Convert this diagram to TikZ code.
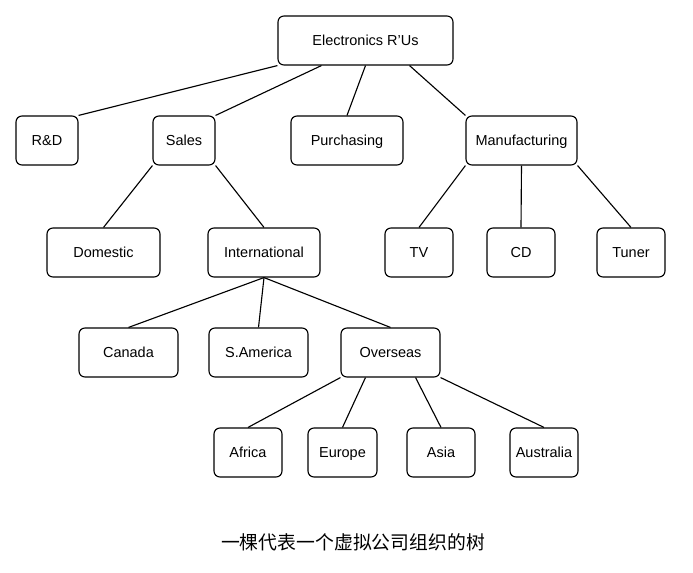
\documentclass[tikz,border=0pt]{standalone}
\usepackage{fontspec}
\setmainfont{Liberation Sans}
\newfontfamily\cjk{Noto Sans CJK SC}
\usetikzlibrary{positioning,calc}

\begin{document}
\begin{tikzpicture}[x=0.025cm,y=-0.025cm,line width=0.8pt,
	box/.style={draw,rounded corners=0.15cm,minimum height=1.225cm,inner sep=0pt,
		text height=0.916em,text depth=0.2em,font=\fontsize{10.3}{12}\selectfont}]
	\useasboundingbox (0,0) rectangle (693,573);
	\node[box,minimum width=4.375cm] (0) at (365.5, 40.5) {Electronics R'Us};
	\node[box,minimum width=1.55cm] (1) at (47, 140.5) {R\&D};
	\node[box,minimum width=1.55cm] (2) at (184, 140.5) {Sales};
	\node[box,minimum width=2.8cm] (3) at (347, 140.5) {Purchasing};
	\node[box,minimum width=2.775cm] (4) at (521.5, 140.5) {Manufacturing};
	\node[box,minimum width=2.825cm] (5) at (103.5, 252.5) {Domestic};
	\node[box,minimum width=2.8cm] (6) at (264, 252.5) {International};
	\node[box,minimum width=1.7cm] (7) at (419, 252.5) {TV};
	\node[box,minimum width=1.7cm] (8) at (521, 252.5) {CD};
	\node[box,minimum width=1.7cm] (9) at (631, 252.5) {Tuner};
	\node[box,minimum width=2.475cm] (10) at (128.5, 352.5) {Canada};
	\node[box,minimum width=2.475cm] (11) at (258.5, 352.5) {S.America};
	\node[box,minimum width=2.475cm] (12) at (390.5, 352.5) {Overseas};
	\node[box,minimum width=1.7cm] (13) at (248, 452.5) {Africa};
	\node[box,minimum width=1.725cm] (14) at (342.5, 452.5) {Europe};
	\node[box,minimum width=1.7cm] (15) at (441, 452.5) {Asia};
	\node[box,minimum width=1.7cm] (16) at (544, 452.5) {Australia};
	\node[font=\cjk\fontsize{13.4}{15}\selectfont] (17) at (353, 542) {一棵代表一个虚拟公司组织的树};
	\draw (0.south west) to (1.north east);
	\draw ($(0.south west)!0.25!(0.south east)$) to (2.north east);
	\draw (0.south) to (3.north);
	\draw ($(0.south west)!0.75!(0.south east)$) to (4.north west);
	\draw (2.south west) to (5.north);
	\draw (2.south east) to (6.north);
	\draw (4.south west) to (7.north);
	\draw (4.south) to (8.north);
	\draw (4.south east) to (9.north);
	\draw (6.south) to (10.north);
	\draw (6.south) to (11.north);
	\draw (6.south) to (12.north);
	\draw (12.south west) to (13.north);
	\draw ($(12.south west)!0.25!(12.south east)$) to (14.north);
	\draw ($(12.south west)!0.75!(12.south east)$) to (15.north);
	\draw (12.south east) to (16.north);
\end{tikzpicture}
\end{document}
